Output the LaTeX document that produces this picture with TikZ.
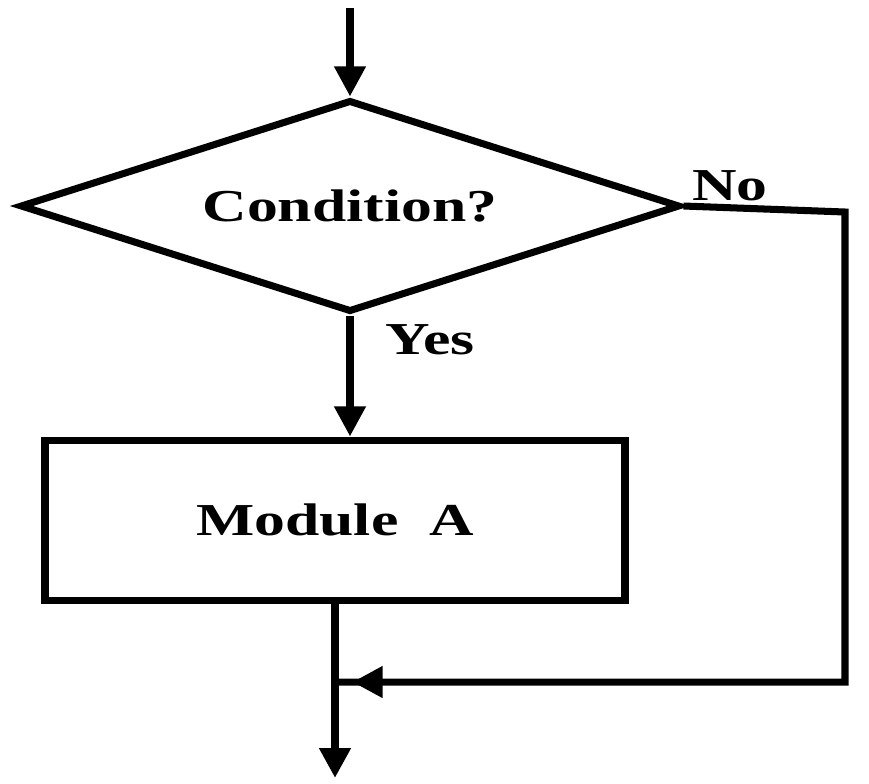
\documentclass[tikz,border=0pt]{standalone}
\usepackage{graphicx}
\usepackage{fontspec}
\setmainfont{Liberation Serif}
\usetikzlibrary{shapes.geometric,arrows.meta,decorations.markings}
\newcommand{\wide}[1]{\scalebox{1.35}[1]{#1}}
\begin{document}
\begin{tikzpicture}[line width=4pt, every node/.style={font=\fontsize{26}{28}\selectfont\bfseries}]
  \tikzstyle{cond}=[draw,diamond,aspect=3.1,inner sep=0pt,minimum width=13.2cm,minimum height=4.24cm]
  \tikzstyle{mbox}=[draw,rectangle,minimum width=11.6cm,minimum height=3.2cm]
  \tikzstyle{flow}=[-{Triangle[length=0.6cm,width=0.6cm]}]
  \useasboundingbox (0,0) rectangle (17.38,-15.66);
  \coordinate (start) at (7.0,-0.16);
  \node[cond] (dec) at (7.0,-4.12) {\wide{Condition?}};
  \node[mbox] (mod) at (6.7,-10.4) {\wide{Module\ \ A}};
  \coordinate (c1) at (16.9,-4.24);
  \coordinate (c2) at (16.9,-13.64);
  \coordinate (join) at (mod.south |- c2);
  \coordinate (stop) at (6.7,-15.56);
  \node (no) at (14.6,-3.72) {\wide{No}};
  \node (yes) at (8.6,-6.8) {\wide{Yes}};
  \draw[flow] (start) -- (dec.north);
  \draw[flow] (dec.south) -- (dec.south |- mod.north);
  \draw[line width=5pt,flow] (mod.south) -- (stop);
  \draw[postaction={decorate},decoration={markings,mark=at position -0.35cm with {\arrow{Triangle[length=0.6cm,width=0.6cm]}}}]
    (dec.east) -- (c1) -- (c2) -- (join);
\end{tikzpicture}
\end{document}
